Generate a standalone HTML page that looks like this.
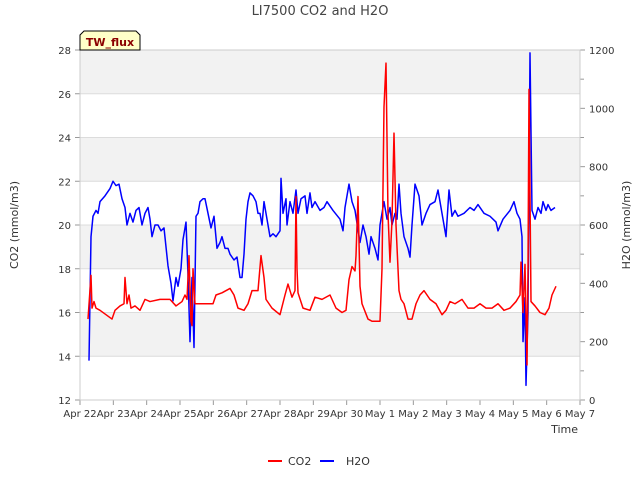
<!DOCTYPE html>
<html><head><meta charset="utf-8"><style>
body{margin:0;background:#fff;font-family:"Liberation Sans",sans-serif}
svg text{font-family:"DejaVu Sans","Liberation Sans",sans-serif}
</style></head><body>
<svg id="c" width="640" height="480" xmlns="http://www.w3.org/2000/svg">
<text x="320" y="15" text-anchor="middle" font-size="13" fill="#444">LI7500 CO2 and H2O</text>
<g id="bands"></g><g id="axes"></g><g id="series"></g>
<g>
<path d="M80,50 L80,35 L84,31 L136,31 L140,35 L140,50 Z" fill="#ffffc8" stroke="#000" stroke-width="1"/>
<text x="110" y="46" text-anchor="middle" font-size="11" font-weight="bold" fill="#8b0000">TW_flux</text></g>
<text transform="translate(18,225) rotate(-90)" text-anchor="middle" font-size="11" fill="#333">CO2 (mmol/m3)</text>
<text transform="translate(630,225) rotate(-90)" text-anchor="middle" font-size="11" fill="#333">H2O (mmol/m3)</text>
<text x="578" y="433" text-anchor="end" font-size="11" fill="#333">Time</text>
<g><line x1="268" y1="461" x2="282" y2="461" stroke="#f00" stroke-width="2"/><text x="288" y="465" font-size="11" fill="#333">CO2</text></g>
<g><line x1="320" y1="461" x2="334" y2="461" stroke="#00f" stroke-width="2"/><text x="346" y="465" font-size="11" fill="#333">H2O</text></g>
</svg>
<script>
const xTickLabels=["Apr 22","Apr 23","Apr 24","Apr 25","Apr 26","Apr 27","Apr 28","Apr 29","Apr 30","May 1","May 2","May 3","May 4","May 5","May 6","May 7"];
const leftTicks=[12,14,16,18,20,22,24,26,28];
const rightTicks=[0,200,400,600,800,1000,1200];
const co2Days=[0.24,0.33,0.36,0.42,0.48,0.6,0.78,0.96,1.05,1.2,1.32,1.35,1.41,1.47,1.53,1.65,1.8,1.95,2.1,2.4,2.7,2.88,3.06,3.15,3.21,3.27,3.33,3.36,3.39,3.45,3.75,3.99,4.08,4.26,4.5,4.62,4.74,4.92,5.04,5.16,5.34,5.43,5.52,5.58,5.76,6.0,6.15,6.24,6.36,6.45,6.48,6.51,6.54,6.69,6.9,7.05,7.26,7.5,7.68,7.86,7.98,8.07,8.16,8.25,8.28,8.34,8.4,8.46,8.64,8.76,9.0,9.06,9.12,9.18,9.24,9.3,9.36,9.42,9.48,9.57,9.63,9.72,9.84,9.96,10.08,10.2,10.32,10.5,10.68,10.86,10.98,11.1,11.25,11.46,11.64,11.82,12.0,12.18,12.36,12.54,12.72,12.9,13.08,13.2,13.23,13.29,13.35,13.41,13.44,13.47,13.53,13.65,13.8,13.95,14.07,14.16,14.28];
const co2Values=[15.7,17.7,16.2,16.5,16.2,16.1,15.9,15.7,16.1,16.3,16.4,17.6,16.4,16.8,16.2,16.3,16.1,16.6,16.5,16.6,16.6,16.3,16.5,16.8,16.6,18.6,15.6,15.4,18.0,16.4,16.4,16.4,16.8,16.9,17.1,16.8,16.2,16.1,16.4,17.0,17.0,18.6,17.6,16.6,16.2,15.9,16.8,17.3,16.7,17.0,21.3,18,16.9,16.2,16.1,16.7,16.6,16.8,16.2,16.0,16.1,17.5,18.1,17.9,18.6,21.3,17.2,16.4,15.7,15.6,15.6,18,25.4,27.4,20.5,18.3,20.2,24.2,20.0,17.0,16.6,16.4,15.7,15.7,16.4,16.8,17.0,16.6,16.4,15.9,16.1,16.5,16.4,16.6,16.2,16.2,16.4,16.2,16.2,16.4,16.1,16.2,16.5,16.8,18.3,16.0,18.2,13.6,18,26.2,16.5,16.3,16.0,15.9,16.2,16.8,17.2];
const h2oDays=[0.27,0.33,0.39,0.48,0.54,0.6,0.75,0.9,0.99,1.08,1.17,1.26,1.35,1.41,1.5,1.59,1.68,1.77,1.86,1.95,2.04,2.1,2.16,2.25,2.34,2.43,2.52,2.64,2.73,2.79,2.88,2.94,3.03,3.09,3.18,3.24,3.3,3.36,3.42,3.48,3.54,3.6,3.69,3.75,3.84,3.93,4.02,4.11,4.2,4.26,4.35,4.44,4.5,4.62,4.71,4.8,4.86,4.92,4.98,5.04,5.1,5.19,5.28,5.34,5.4,5.46,5.52,5.58,5.7,5.79,5.88,6.0,6.03,6.09,6.18,6.21,6.3,6.39,6.48,6.54,6.63,6.75,6.81,6.9,6.96,7.05,7.2,7.32,7.41,7.59,7.8,7.89,7.95,8.07,8.16,8.25,8.4,8.49,8.58,8.67,8.73,8.85,8.94,9.0,9.12,9.21,9.3,9.36,9.45,9.51,9.57,9.63,9.72,9.84,9.9,9.96,10.05,10.17,10.26,10.38,10.5,10.65,10.74,10.86,10.98,11.07,11.16,11.25,11.34,11.52,11.7,11.82,11.94,12.12,12.3,12.48,12.54,12.69,12.9,13.02,13.11,13.2,13.26,13.29,13.35,13.38,13.44,13.5,13.56,13.65,13.74,13.83,13.89,13.98,14.04,14.13,14.25];
const h2oValues=[135,560,630,650,640,680,700,725,750,735,740,690,660,600,640,610,650,660,600,640,660,620,560,600,600,580,590,460,400,340,420,390,450,550,610,430,200,420,180,630,640,680,690,690,640,590,630,520,540,560,520,520,500,480,490,420,420,500,620,680,710,700,680,640,640,600,680,640,560,570,560,580,760,640,690,600,680,640,720,640,690,700,640,710,660,680,650,660,680,650,620,580,660,740,680,650,540,600,560,500,560,520,480,600,680,620,660,600,640,620,740,640,560,520,490,600,740,700,600,640,670,680,720,640,560,720,630,650,630,640,660,650,670,640,630,610,580,620,650,680,640,620,560,200,350,50,300,1190,650,620,660,640,680,650,670,650,660];

const NS="http://www.w3.org/2000/svg";
const X0=80,X1=580,Y0=50,Y1=400;
const xs=d=>X0+(X1-X0)*d/15;
const yl=v=>Y1-(Y1-Y0)*(v-12)/16;
const yr=v=>Y1-(Y1-Y0)*v/1200;
function mk(tag,attrs,parent){const e=document.createElementNS(NS,tag);for(const k in attrs)e.setAttribute(k,attrs[k]);parent.appendChild(e);return e;}
const bands=document.getElementById('bands'),axes=document.getElementById('axes'),series=document.getElementById('series');
mk('rect',{x:X0,y:Y0,width:X1-X0,height:Y1-Y0,fill:'#fff'},bands);
for(let i=0;i<leftTicks.length-1;i++){
  if(i%2===1){const b=mk('rect',{x:X0,y:yl(leftTicks[i+1]),width:X1-X0,height:yl(leftTicks[i])-yl(leftTicks[i+1]),fill:'#f2f2f2'},bands);
  
  }
}
leftTicks.forEach(v=>{
  const y=yl(v);
  mk('line',{x1:X0,x2:X1,y1:y,y2:y,stroke:'#dcdcdc','stroke-width':1},bands);
  mk('line',{x1:X0-5,x2:X0,y1:y,y2:y,stroke:'#999'},axes);
  const t=mk('text',{x:X0-9,y:y+4,'text-anchor':'end','font-size':10,fill:'#333'},axes);t.textContent=v;
  
  
});
rightTicks.forEach(v=>{
  const y=yr(v);
  mk('line',{x1:X1,x2:X1+5,y1:y,y2:y,stroke:'#999'},axes);
  if(v<1200){const ym=yr(v+100);mk('line',{x1:X1,x2:X1+4,y1:ym,y2:ym,stroke:'#999'},axes);}
  const t=mk('text',{x:X1+9,y:y+4,'font-size':10,fill:'#333'},axes);t.textContent=v;
  
  
});
xTickLabels.forEach((lab,i)=>{
  const x=xs(i);
  mk('line',{x1:x,x2:x,y1:Y1,y2:Y1+5,stroke:'#999'},axes);
  const t=mk('text',{x:x,y:Y1+17,'text-anchor':'middle','font-size':10,fill:'#333'},axes);t.textContent=lab;
  
  
});
mk('rect',{x:X0,y:Y0,width:X1-X0,height:Y1-Y0,fill:'none',stroke:'#ccc'},axes);
const ph=mk('polyline',{points:h2oDays.map((d,i)=>xs(d)+','+yr(h2oValues[i])).join(' '),fill:'none',stroke:'#0000ff','stroke-width':1.5,'stroke-linejoin':'round'},series);


const pc=mk('polyline',{points:co2Days.map((d,i)=>xs(d)+','+yl(co2Values[i])).join(' '),fill:'none',stroke:'#ff0000','stroke-width':1.5,'stroke-linejoin':'round'},series);


</script>
</body></html>
